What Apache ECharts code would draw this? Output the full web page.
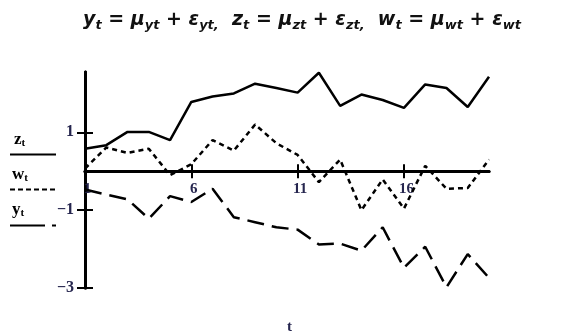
<!DOCTYPE html>
<html><head><meta charset="utf-8">
<script src="https://cdn.jsdelivr.net/npm/echarts@6/dist/echarts.min.js"></script>
<style>html,body{margin:0;padding:0;background:#fff}#c{width:575px;height:335px}</style>
</head><body><div id="c"></div>
<script>
const t = [1,2,3,4,5,6,7,8,9,10,11,12,13,14,15,16,17,18,19,20];
const zt = [0.58,0.67,1.01,1.01,0.80,1.78,1.92,2.00,2.25,2.14,2.02,2.53,1.68,1.97,1.83,1.63,2.23,2.14,1.65,2.43];
const wt = [0.07,0.61,0.47,0.58,-0.10,0.18,0.80,0.53,1.20,0.72,0.42,-0.28,0.30,-1.00,-0.21,-0.96,0.14,-0.45,-0.43,0.30];
const yt = [-0.47,-0.60,-0.72,-1.22,-0.64,-0.79,-0.45,-1.18,-1.31,-1.44,-1.50,-1.88,-1.86,-2.04,-1.44,-2.48,-1.94,-2.98,-2.13,-2.74];
const xTicks = [1,6,11,16];
const yTicks = [-3,-1,1];
const yMin = -3, yMax = 2.55;

const ink = '#26264f';
const labFont = 'Liberation Serif';
const gridTop = 72, gridBottom = 47, H = 335;
const gridH = H - gridTop - gridBottom;
// shift of the x axis from the grid bottom up to the value 0 of the y scale
const zeroOffset = -(gridH * (0 - yMin) / (yMax - yMin));

function pairs(v){ return t.map((x,i)=>[x,v[i]]); }

function xAx(inside, labels){
  return {
    type:'value', min:1, max:20, position:'bottom', offset:zeroOffset,
    axisLine:{show:true,onZero:false,lineStyle:{color:'#000',width:3}},
    axisTick:{show:true,inside:inside,length:7,customValues:xTicks,lineStyle:{color:'#000',width:2}},
    axisLabel:{show:labels,customValues:xTicks,margin:10,fontFamily:labFont,fontWeight:'bold',fontSize:15,color:ink,padding:[0,0,0,5]},
    splitLine:{show:false}
  };
}
function yAx(inside, labels){
  return {
    type:'value', min:yMin, max:yMax, position:'left',
    axisLine:{show:true,onZero:false,lineStyle:{color:'#000',width:3}},
    axisTick:{show:true,inside:inside,length:8,customValues:yTicks,lineStyle:{color:'#000',width:2}},
    axisLabel:{show:labels,customValues:yTicks,margin:11,fontFamily:labFont,fontWeight:'bold',fontSize:16,color:ink,
      formatter:v=>String(v).replace('-','\u2212')},
    splitLine:{show:false}
  };
}

const chart = echarts.init(document.getElementById('c'), null, {renderer:'canvas'});
const mS = {fontFamily:'DejaVu Sans',fontStyle:'italic',fontWeight:'bold',fontSize:19,color:'#111',lineHeight:24};
const sS = {fontFamily:'DejaVu Sans',fontStyle:'italic',fontWeight:'bold',fontSize:13,color:'#111',verticalAlign:'bottom'};
const lm = {fontFamily:labFont,fontWeight:'bold',fontSize:17,color:ink,lineHeight:19};
const ls = {fontFamily:labFont,fontWeight:'bold',fontSize:11,color:ink,verticalAlign:'bottom'};

chart.setOption({
  animation:false,
  backgroundColor:'#fff',
  title:{
    text:'{m|y}{s|t}{m| = \u03bc}{s|yt}{m| + \u03b5}{s|yt,}{m|  z}{s|t}{m| = \u03bc}{s|zt}{m| + \u03b5}{s|zt,}{m|  w}{s|t}{m| = \u03bc}{s|wt}{m| + \u03b5}{s|wt}',
    left:78, top:3,
    textStyle:{rich:{m:mS,s:sS}}
  },
  grid:{left:85,right:86,top:gridTop,bottom:gridBottom,containLabel:false},
  xAxis:[xAx(false,true), xAx(true,false)],
  yAxis:[yAx(false,true), yAx(true,false)],
  series:[
    {name:'z',type:'line',data:pairs(zt),showSymbol:false,lineStyle:{color:'#000',width:2.5,type:'solid'},z:3},
    {name:'w',type:'line',data:pairs(wt),showSymbol:false,lineStyle:{color:'#000',width:2.5,type:[5,4]},z:3},
    {name:'y',type:'line',data:pairs(yt),showSymbol:false,lineStyle:{color:'#000',width:2.5,type:[17,8]},z:3}
  ],
  graphic:[
    {type:'text',left:14,top:131,style:{text:'{m|z}{s|t}',rich:{m:lm,s:ls}}},
    {type:'line',shape:{x1:10,y1:154.5,x2:56,y2:154.5},style:{stroke:'#000',lineWidth:2}},
    {type:'text',left:12,top:166,style:{text:'{m|w}{s|t}',rich:{m:lm,s:ls}}},
    {type:'line',shape:{x1:10,y1:189.5,x2:55,y2:189.5},style:{stroke:'#000',lineWidth:2,lineDash:[5,3]}},
    {type:'text',left:12,top:201,style:{text:'{m|y}{s|t}',rich:{m:lm,s:ls}}},
    {type:'line',shape:{x1:10,y1:225.5,x2:56,y2:225.5},style:{stroke:'#000',lineWidth:2,lineDash:[35,7]}},
    {type:'text',left:287,top:320,style:{text:'t',font:'bold 15px "Liberation Serif"',fill:ink}}
  ]
});
</script></body></html>
